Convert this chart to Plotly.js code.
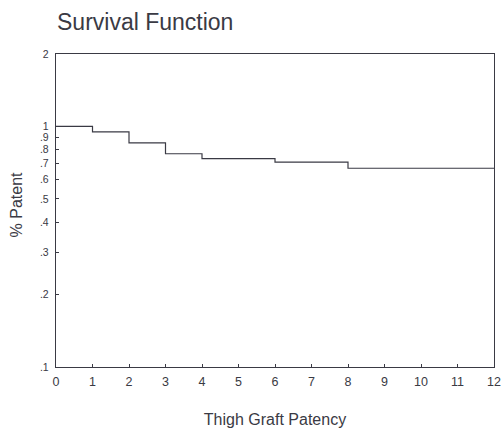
<!DOCTYPE html>
<html>
<head>
<meta charset="utf-8">
<script src="https://cdn.plot.ly/plotly-3.0.1.min.js"></script>
<style>html,body{margin:0;padding:0;background:#fff;}#chart{width:504px;height:428px;}</style>
</head>
<body>
<div id="chart"></div>
<script>
// Kaplan-Meier step survival (time in units, proportion patent)
var times = [0, 1, 2, 3, 4, 6, 8, 12];
var survival = [1.0, 0.95, 0.855, 0.77, 0.735, 0.71, 0.67, 0.67];
var yTickVals = [0.1, 0.2, 0.3, 0.4, 0.5, 0.6, 0.7, 0.8, 0.9, 1, 2];
var yTickText = [".1", ".2", ".3", ".4", ".5", ".6", ".7", ".8", ".9", "1", "2"];
var xTickVals = [0, 1, 2, 3, 4, 5, 6, 7, 8, 9, 10, 11, 12];

var trace = {
  x: times, y: survival, mode: 'lines', type: 'scatter',
  line: {shape: 'hv', color: '#3a3a44', width: 1.2},
  hoverinfo: 'none', showlegend: false
};
var axisColor = '#3a3a44';
var fam = 'Liberation Sans, Arial, sans-serif';
var layout = {
  width: 504, height: 428,
  margin: {l: 56, r: 10, t: 54, b: 61},
  paper_bgcolor: '#ffffff', plot_bgcolor: '#ffffff',
  font: {family: fam, color: '#3a3a44', size: 12},
  title: {text: 'Survival Function', x: 57/504, xref: 'container', xanchor: 'left', y: 1, yref: 'container', yanchor: 'top', pad: {t: 14},
          font: {size: 23, color: '#3a3a44', family: fam}},
  xaxis: {
    range: [0, 12], tickvals: xTickVals, ticks: 'inside', ticklen: 3, tickcolor: axisColor,
    showline: true, linecolor: axisColor, linewidth: 1.2, mirror: true, showgrid: false, zeroline: false,
    tickfont: {size: 12.5}, ticklabelstandoff: 3, fixedrange: true,
    title: {text: 'Thigh Graft Patency', font: {size: 16}, standoff: 28}
  },
  yaxis: {
    type: 'log', range: [Math.log10(0.1), Math.log10(2)], tickvals: yTickVals, ticktext: yTickText,
    ticks: 'inside', ticklen: 3, tickcolor: axisColor,
    showline: true, linecolor: axisColor, linewidth: 1.2, mirror: true, showgrid: false, zeroline: false,
    tickfont: {size: 10.5}, ticklabelstandoff: 4, fixedrange: true
  },
  annotations: [{
    text: '% Patent', textangle: -90, xref: 'paper', yref: 'paper',
    x: -0.088, xanchor: 'center', y: 0.5176, yanchor: 'middle', showarrow: false,
    font: {size: 16, color: '#3a3a44', family: fam}
  }]
};
Plotly.newPlot('chart', [trace], layout, {displayModeBar: false, staticPlot: true});
</script>
</body>
</html>
